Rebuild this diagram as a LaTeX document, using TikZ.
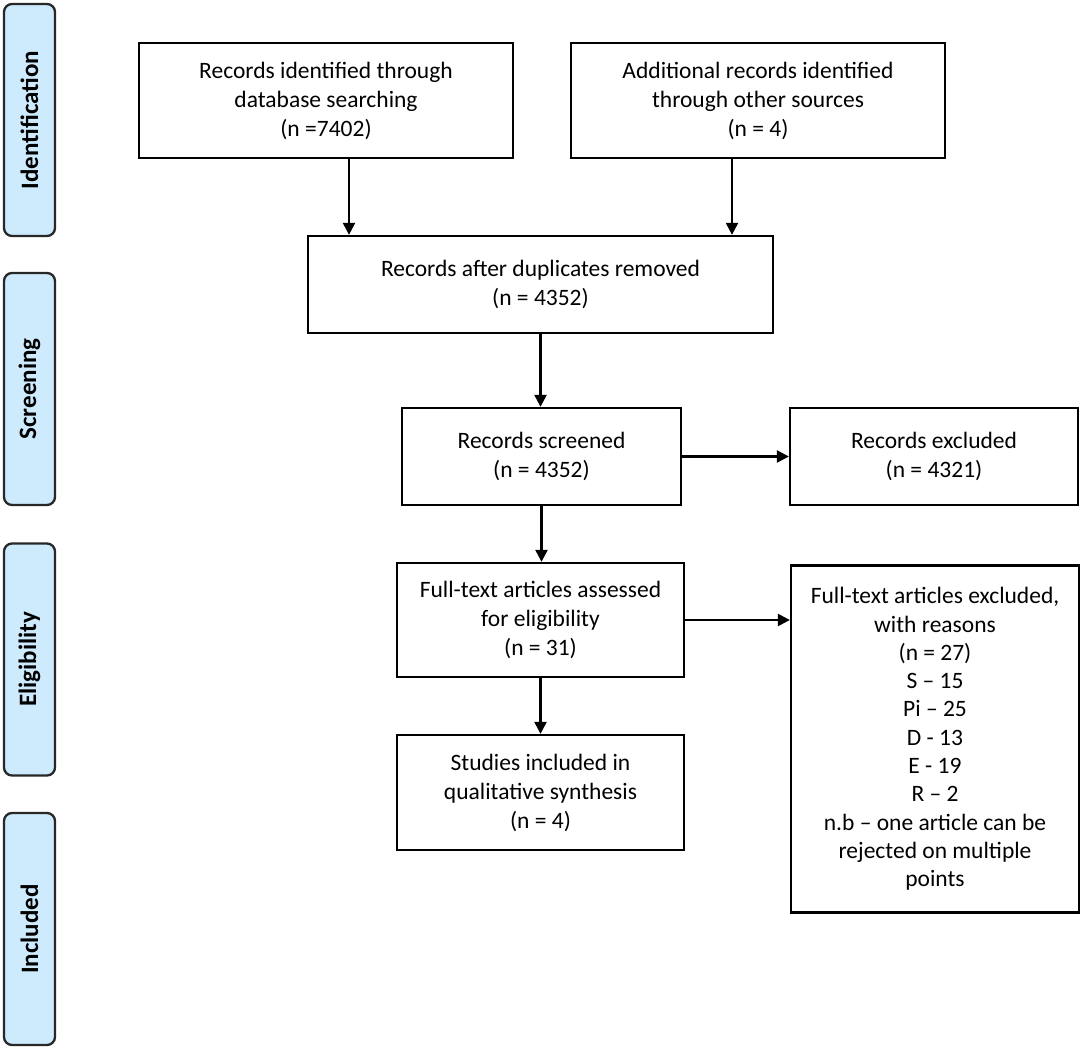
\documentclass[tikz,border=0pt]{standalone}
\usepackage{fontspec}
\setmainfont{Carlito}
\usetikzlibrary{arrows.meta,positioning}
\definecolor{phasefill}{RGB}{206,235,253}
\definecolor{phaseline}{RGB}{40,40,40}
\begin{document}
\begin{tikzpicture}[x=1pt,y=-1pt,
  box/.style={draw=black,line width=2.3pt,align=center,inner sep=0pt,
    font=\fontsize{23.5}{29}\selectfont},
  phase/.style={draw=phaseline,fill=phasefill,line width=2.3pt,rounded corners=8pt,
    rotate=90,minimum width=232pt,minimum height=51pt,inner sep=0pt,
    font=\fontsize{25}{30}\selectfont\bfseries},
  arr/.style={line width=2.3pt,-{Triangle[length=12pt,width=12pt]}}]
\useasboundingbox (0,0) rectangle (1084,1049);
% phase labels
\node[phase] (p1) at (29.5,120) {Identification};
\node[phase] (p2) at (29.5,389) {Screening};
\node[phase] (p3) at (29.5,659.5) {Eligibility};
\node[phase] (p4) at (29.5,929) {Included};
% boxes
\node[box,minimum width=374pt,minimum height=115pt] (A) at (326,100.5)
  {Records identified through\\database searching\\(n =7402)};
\node[box,minimum width=374pt,minimum height=115pt] (B) at (758,100.5)
  {Additional records identified\\through other sources\\(n = 4)};
\node[box,minimum width=465pt,minimum height=97pt] (C) at (540.5,284.5)
  {Records after duplicates removed\\(n = 4352)};
\node[box,minimum width=279pt,minimum height=97pt] (D) at (541.5,456.5)
  {Records screened\\(n = 4352)};
\node[box,minimum width=288pt,minimum height=97pt] (E) at (934,456.5)
  {Records excluded\\(n = 4321)};
\node[box,minimum width=287pt,minimum height=114pt] (F) at (540.5,620)
  {Full-text articles assessed\\for eligibility\\(n = 31)};
\node[box,minimum width=288pt,minimum height=347pt,
  font=\fontsize{23.5}{28.3}\selectfont] (G) at (935,739)
  {Full-text articles excluded,\\with reasons\\(n = 27)\\S -- 15\\Pi -- 25\\D - 13\\E - 19\\R -- 2\\n.b -- one article can be\\rejected on multiple\\points};
\node[box,minimum width=287pt,minimum height=115pt] (H) at (540.5,792.5)
  {Studies included in\\qualitative synthesis\\(n = 4)};
% connectors
\draw[arr] ([xshift=23pt]A.south) -- ([xshift=23pt]A.south |- C.north);
\draw[arr] ([xshift=-26pt]B.south) -- ([xshift=-26pt]B.south |- C.north);
\draw[arr] (C.south) -- (C.south |- D.north);
\draw[arr] (D.east) -- (D.east -| E.west);
\draw[arr] (D.south) -- (D.south |- F.north);
\draw[arr] (F.east) -- (F.east -| G.west);
\draw[arr] (F.south) -- (F.south |- H.north);
\end{tikzpicture}
\end{document}
